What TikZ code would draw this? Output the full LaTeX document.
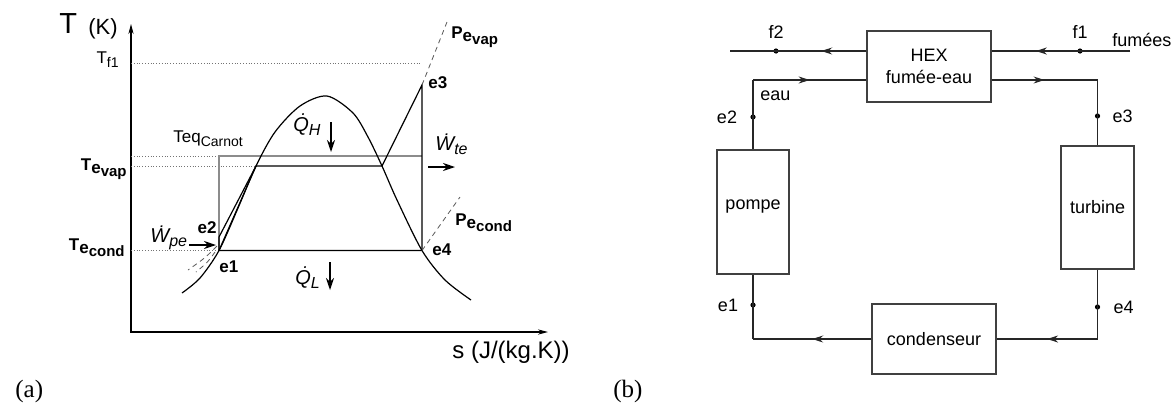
\documentclass[tikz,border=0pt]{standalone}
\usepackage{fontspec}
\setmainfont{Liberation Sans}
\newfontfamily\timesfont{Liberation Serif}
\usetikzlibrary{positioning, arrows.meta, decorations.markings, calc}

\newcommand{\lowtxt}[3]{\raisebox{-#1}{\fontsize{#2}{#2}\selectfont #3}}
\newcommand{\rate}[1]{\.{#1}}

\tikzset{
  bloc/.style={rectangle, draw=black!75, semithick, align=center, inner sep=0pt, font=\fontsize{9}{11}\selectfont},
  lbl/.style={inner sep=0pt, font=\fontsize{9}{11}\selectfont},
  blbl/.style={inner sep=0pt, font=\fontsize{8.5}{10}\selectfont\bfseries},
  ratelbl/.style={inner sep=0pt, anchor=base west, font=\fontsize{10}{12}\selectfont\itshape},
  dotnode/.style={circle, fill=black, inner sep=0pt, minimum size=2.6pt},
  pipe/.style={semithick, black!85},
  midarr/.style={postaction={decorate}, decoration={markings, mark=at position 0.5 with {\arrow{Stealth[length=5.5pt,width=3.5pt]}}}},
  guide/.style={densely dotted, black!55, thin},
  ext/.style={dash pattern=on 2.5pt off 2pt, black!65, thin},
  cyc/.style={semithick, black},
  carnot/.style={black!45, semithick},
  heat/.style={-{Stealth[length=6pt,width=4pt]}, semithick},
  axisline/.style={semithick, {Stealth[length=5pt,width=2.6pt]}-{Stealth[length=5pt,width=2.6pt]}},
}

\begin{document}
\begin{tikzpicture}[x=0.5pt, y=-0.5pt]
    \useasboundingbox (0,0) rectangle (1176,403);

    % (a) diagramme T-s
    \coordinate (O) at (131,332);
    \coordinate (ytop) at (131,24);
    \coordinate (xend) at (548,332);
    \draw[axisline] (ytop) -- (O) -- (xend);
    \node[anchor=base west, inner sep=0pt, font=\fontsize{14.5}{16}\selectfont] (Tax) at (59,33) {T};
    \node[anchor=base west, inner sep=0pt, font=\fontsize{11}{13}\selectfont] (Kax) at (88,34) {(K)};
    \node[anchor=base west, inner sep=0pt, font=\fontsize{12}{14}\selectfont] (sax) at (452,358) {s (J/(kg.K))};

    \coordinate (e1) at (219,250.5);
    \coordinate (e2) at (219,237);
    \coordinate (sl) at (256,166);
    \coordinate (sv) at (382,166);
    \coordinate (e3) at (422,85);
    \coordinate (e4) at (422,250.5);
    \coordinate (yf1) at (131,63);
    \coordinate (yeq) at (131,156);
    \coordinate (yev) at (131,166);

    \draw[guide] (yf1) -- (yf1 -| e3);
    \draw[guide] (yeq) -- (yeq -| e1);
    \draw[guide] (yev) -- (sl);
    \draw[guide] (O |- e1) -- (e1);
    \draw[carnot] (e1) -- (yeq -| e1) -- (yeq -| e3);

    \draw[cyc] plot[smooth] coordinates {(182,293) (200,278) (e1) (238,208) (sl) (275,132) (300,106) (327,96) (353,113) (368,137) (sv) (397,200) (e4) (445,280) (471,300)};
    \draw[cyc] (e2) -- (sl) -- (sv) -- (e3) -- (e4) -- (e1) -- (e2);
    \draw[cyc] (e1) -- (sl);

    \coordinate (pev) at (447,22);
    \coordinate (pcd) at (460,197);
    \draw[ext] (e3) -- (pev);
    \draw[ext] (e4) -- (pcd);
    \draw[ext] (217,246) .. controls (205,258) .. (188,270);
    \draw[ext] (215,252) .. controls (208,262) .. (196,272);

    \node[lbl, anchor=base east, font=\fontsize{8.5}{10}\selectfont] (tf1) at (119,63) {T\lowtxt{0.45ex}{7}{f1}};
    \node[lbl, anchor=base west, font=\fontsize{8.5}{10}\selectfont] (teq) at (173,142) {Teq\lowtxt{0.5ex}{7}{Carnot}};
    \node[blbl, anchor=base east] (tev) at (127,170) {T\lowtxt{0.35ex}{8.5}{e\lowtxt{0.35ex}{7.5}{vap}}};
    \node[blbl, anchor=base east] (tcd) at (125,250) {T\lowtxt{0.35ex}{8.5}{e\lowtxt{0.35ex}{7.5}{cond}}};
    \node[blbl, anchor=base west] (pevl) at (451,38) {P\lowtxt{0.35ex}{8.5}{e\lowtxt{0.35ex}{7.5}{vap}}};
    \node[blbl, anchor=base west] (pcdl) at (455,225) {P\lowtxt{0.35ex}{8.5}{e\lowtxt{0.35ex}{7.5}{cond}}};
    \node[blbl, anchor=base west] (e3lbl) at (428,88) {e3};
    \node[blbl, anchor=base west] (e4lbl) at (432,255) {e4};
    \node[blbl, anchor=base east] (e2lbl) at (217,233) {e2};
    \node[blbl, anchor=base west] (e1lbl) at (219,272) {e1};

    \node[ratelbl] (qh) at (293,131) {\rate{Q}\lowtxt{0.4ex}{8}{H}};
    \node[ratelbl] (ql) at (295,284) {\rate{Q}\lowtxt{0.4ex}{8}{L}};
    \node[ratelbl] (wte) at (435,150) {\rate{W}\lowtxt{0.4ex}{8}{te}};
    \node[ratelbl] (wpe) at (150,242) {\rate{W}\lowtxt{0.4ex}{8}{pe}};
    \coordinate (qha) at (331,122);
    \coordinate (qla) at (330,262);
    \coordinate (wtea) at (428,167);
    \coordinate (wpea) at (189,245);
    \draw[heat] (qha) -- ++(0,30);
    \draw[heat] (qla) -- ++(0,28);
    \draw[heat] (wtea) -- ++(27,0);
    \draw[heat] (wpea) -- ++(27,0);

    \node[anchor=base west, inner sep=0pt, font=\timesfont\fontsize{12.5}{14}\selectfont] (capa) at (15,397) {(a)};

    % (b) schema du cycle
    \node[bloc, minimum width=62pt, minimum height=35.5pt] (hex) at (929,66.5) {HEX\\fumée-eau};
    \node[bloc, minimum width=36pt, minimum height=62pt, text depth=7.7pt] (pompe) at (753,212) {pompe};
    \node[bloc, minimum width=36.5pt, minimum height=61.5pt] (turbine) at (1097.5,207.5) {turbine};
    \node[bloc, minimum width=62pt, minimum height=35pt] (cond) at (934,339) {condenseur};

    \node[dotnode] (f1) at (1080,51) {};
    \node[dotnode] (f2) at (776,51) {};
    \node[dotnode] (e2dot) at (753,117) {};
    \node[dotnode] (e3dot) at (1097.5,116) {};
    \node[dotnode] (e1dot) at (753,305) {};
    \node[dotnode] (e4dot) at (1097.5,307) {};

    \coordinate (fumin) at (1130,51);
    \coordinate (fumout) at (730,51);
    \coordinate (c2) at (753,80);
    \coordinate (c3) at (turbine.north |- c2);
    \coordinate (c4) at (turbine.south |- cond.east);
    \coordinate (c1) at (pompe.south |- cond.west);

    \draw[pipe] (fumin) -- (f1.center);
    \draw[pipe, midarr] (f1.center) -- (f1 -| hex.east);
    \draw[pipe, midarr] (f2 -| hex.west) -- (f2.center);
    \draw[pipe] (f2.center) -- (fumout);
    \draw[pipe] (pompe.north) -- (c2);
    \draw[pipe, midarr] (c2) -- (c2 -| hex.west);
    \draw[pipe, midarr] (c3 -| hex.east) -- (c3);
    \draw[pipe] (c3) -- (turbine.north);
    \draw[pipe] (turbine.south) -- (c4);
    \draw[pipe, midarr] (c4) -- (cond.east);
    \draw[pipe, midarr] (cond.west) -- (c1);
    \draw[pipe] (c1) -- (pompe.south);

    \node[lbl, above=4.8pt of f1] (f1lbl) {f1};
    \node[lbl, above=4.8pt of f2] (f2lbl) {f2};
    \node[lbl, left=6.3pt of e2dot] (e2txt) {e2};
    \node[lbl, right=5.8pt of e3dot] (e3txt) {e3};
    \node[lbl, left=5.8pt of e1dot] (e1txt) {e1};
    \node[lbl, right=6.3pt of e4dot] (e4txt) {e4};
    \node[lbl, anchor=base west] (eau) at (760,100) {eau};
    \node[lbl, anchor=base west] (fumees) at (1112,46) {fumées};

    \node[anchor=base west, inner sep=0pt, font=\timesfont\fontsize{12.5}{14}\selectfont] (capb) at (613,397) {(b)};
\end{tikzpicture}
\end{document}
